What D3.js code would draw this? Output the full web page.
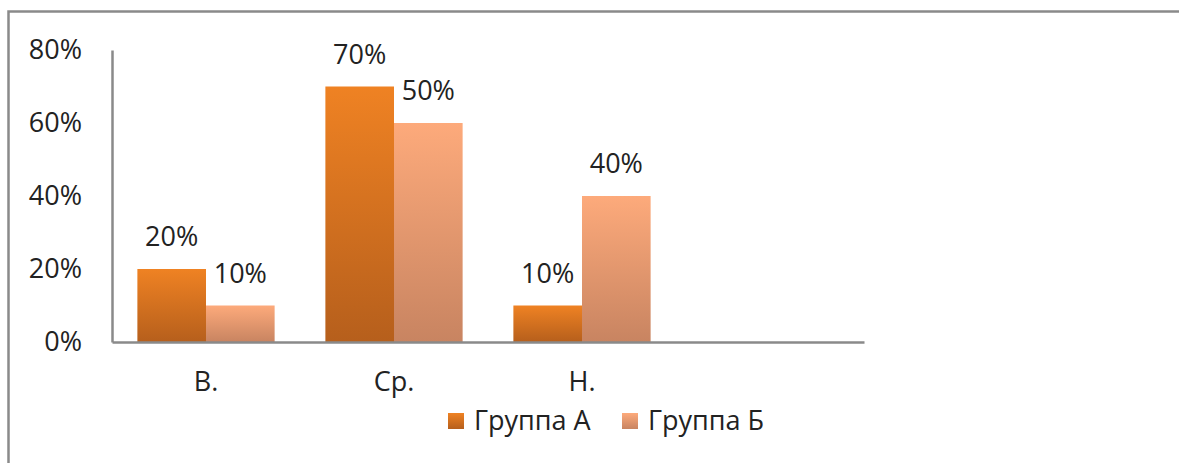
<!DOCTYPE html>
<html>
<head>
<meta charset="utf-8">
<script src="https://cdn.jsdelivr.net/npm/d3@7"></script>
<style>
    body { margin: 0; background: #fff; }
    text { font-family: "Open Sans", "Noto Sans", sans-serif; fill: #222; }
</style>
</head>
<body>
<div id="chart"></div>
<script>
// chart data
const categories = ["В.", "Ср.", "Н.", ""]
const seriesNames = ["Группа А", "Группа Б"]
const groupA = [0.20, 0.70, 0.10, null]
const groupB = [0.10, 0.60, 0.40, null]
const labelsA = ["20%", "70%", "10%", ""]
const labelsB = ["10%", "50%", "40%", ""]
const yTicks = [0, 0.2, 0.4, 0.6, 0.8]

buildChart()

function buildChart() {
    let svg = d3.select("#chart")
                    .append("svg")
                        .attr("width", 1179)
                        .attr("height", 463)

    let defs = svg.append("defs")
    let grads = [
        { id: "gradA", top: "#ef8223", bottom: "#b65f1c" },
        { id: "gradB", top: "#fdaa7b", bottom: "#c88461" }
    ]
    grads.forEach(g => {
        let lg = defs.append("linearGradient")
                    .attr("id", g.id)
                    .attr("x1", 0).attr("y1", 0).attr("x2", 0).attr("y2", 1)
        lg.append("stop").attr("offset", "0%").attr("stop-color", g.top)
        lg.append("stop").attr("offset", "100%").attr("stop-color", g.bottom)
    })

    // outer frame (left + top edges only visible)
    svg.append("path")
        .attr("d", "M8.5,463 L8.5,11.5 L1179,11.5")
        .attr("fill", "none")
        .attr("stroke", "#8a8a8a")
        .attr("stroke-width", 2.5)

    let margin = { left: 112, right: 864, top: 50, bottom: 342 }

    let x = d3.scaleBand()
                .domain(categories)
                .range([margin.left, margin.right])
                .paddingInner(0.27)
                .paddingOuter(0.135)
    let x0 = d3.scaleBand()
                .domain(categories)
                .range([margin.left, margin.right])
    let y = d3.scaleLinear()
                .domain([0, 0.8])
                .range([margin.bottom, margin.top])
    let sub = d3.scaleBand()
                .domain(seriesNames)
                .range([0, x.bandwidth()])

    // bars
    let rows = categories.map((c, i) => ({ cat: c, a: groupA[i], b: groupB[i], la: labelsA[i], lb: labelsB[i] }))
    let series = [
        { key: seriesNames[0], val: d => d.a, lab: d => d.la, fill: "url(#gradA)" },
        { key: seriesNames[1], val: d => d.b, lab: d => d.lb, fill: "url(#gradB)" }
    ]

    series.forEach(s => {
        let data = rows.filter(d => s.val(d) != null)
        svg.append("g").selectAll("rect")
            .data(data)
            .enter().append("rect")
                .attr("x", d => x0(d.cat) + (x0.bandwidth() - x.bandwidth()) / 2 + sub(s.key))
                .attr("y", d => y(s.val(d)))
                .attr("width", sub.bandwidth())
                .attr("height", d => y(0) - y(s.val(d)))
                .attr("fill", s.fill)
        svg.append("g").selectAll("text")
            .data(data)
            .enter().append("text")
                .attr("x", d => x0(d.cat) + (x0.bandwidth() - x.bandwidth()) / 2 + sub(s.key) + sub.bandwidth() / 2)
                .attr("y", d => y(s.val(d)) - 23)
                .attr("text-anchor", "middle")
                .attr("font-size", 27)
                .text(d => s.lab(d))
    })

    // axes
    let yAxis = svg.append("g")
                    .attr("transform", `translate(${margin.left},0)`)
                    .call(d3.axisLeft(y).tickValues(yTicks).tickFormat(d3.format(".0%")).tickSize(0).tickPadding(30))
    yAxis.select(".domain").attr("stroke", "#8a8a8a").attr("stroke-width", 2.5)
    yAxis.selectAll("text").attr("font-size", 27).attr("font-family", null).attr("fill", "#222")

    let xAxis = svg.append("g")
                    .attr("transform", `translate(0,${margin.bottom})`)
                    .call(d3.axisBottom(x0).tickSize(0).tickPadding(30))
    xAxis.select(".domain").attr("stroke", "#8a8a8a").attr("stroke-width", 2.5)
    xAxis.selectAll("text").attr("font-size", 27).attr("font-family", null).attr("fill", "#222")

    // legend
    let legendItems = [
        { name: seriesNames[0], fill: "url(#gradA)", x: 448 },
        { name: seriesNames[1], fill: "url(#gradB)", x: 622 }
    ]
    let legend = svg.append("g").selectAll("g")
                    .data(legendItems)
                    .enter().append("g")
                        .attr("transform", d => `translate(${d.x},413)`)
    legend.append("rect")
            .attr("width", 16)
            .attr("height", 16)
            .attr("fill", d => d.fill)
    legend.append("text")
            .attr("x", 26)
            .attr("y", 17)
            .attr("font-size", 27)
            .text(d => d.name)
}
</script>
</body>
</html>
